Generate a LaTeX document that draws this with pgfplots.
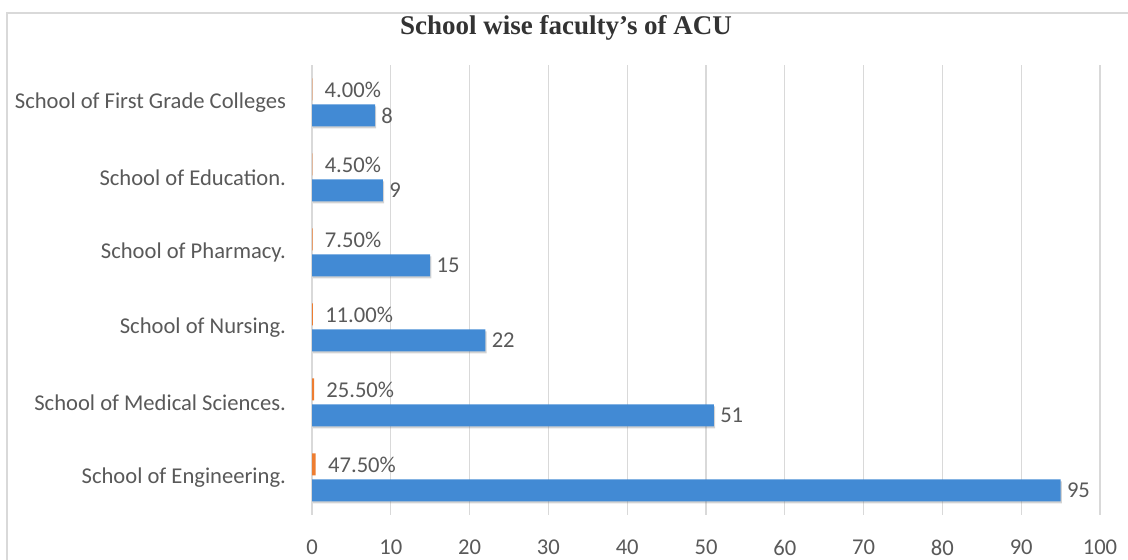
\documentclass[border=0pt]{standalone}
\usepackage{fontspec}
\setmainfont{Carlito}
\newfontfamily\titlefont{Liberation Serif}
\usepackage{pgfplots}
\pgfplotsset{compat=1.18}
\usetikzlibrary{shadows}
\definecolor{barblue}{RGB}{66,138,212}
\definecolor{barorange}{RGB}{237,125,49}
\definecolor{gridgray}{RGB}{217,217,217}
\definecolor{textgray}{RGB}{89,89,89}
\begin{document}
\begin{tikzpicture}
\useasboundingbox (0,0) rectangle (564pt,280pt);
\draw[gridgray, line width=0.6pt] (3.5pt,0) -- (3.5pt,273.5pt) -- (564pt,273.5pt);
\node[font=\titlefont\bfseries\fontsize{13.5}{16}\selectfont, text=black!80] at (283pt,266pt) {School wise faculty’s of ACU};
\begin{axis}[
  at={(156pt,22.5pt)}, anchor=south west,
  scale only axis, width=394pt, height=225pt,
  xbar, xmin=0, xmax=100, ymin=-0.5, ymax=5.5,
  xtick={0,10,...,100},
  ytick={0,...,5},
  yticklabels={School of Engineering., School of Medical Sciences., School of Nursing., School of Pharmacy., School of Education., School of First Grade Colleges},
  axis line style={draw=none},
  xmajorgrids, grid style={gridgray, line width=0.6pt},
  major tick length=0pt,
  tick label style={font=\fontsize{11.3}{13}\selectfont, text=textgray},
  /pgf/number format/assume math mode=true,
  bar width=11pt,
  xticklabel style={yshift=-9pt},
  yticklabel style={xshift=-9.5pt},
  clip=false,
]
\addplot[fill=barblue, draw=none, bar shift=-6.5pt,
  drop shadow={shadow xshift=0.6pt, shadow yshift=-1pt, opacity=0.35},
  nodes near coords, nodes near coords style={anchor=west, font=\fontsize{11.3}{13}\selectfont, text=textgray, inner sep=2pt, xshift=1pt}]
  coordinates {(95,0) (51,1) (22,2) (15,3) (9,4) (8,5)};
\addplot[fill=barorange, draw=none, bar shift=6.5pt,
  point meta=explicit symbolic,
  nodes near coords, nodes near coords style={anchor=west, font=\fontsize{11.3}{13}\selectfont, text=textgray, xshift=4pt, inner sep=2pt}]
  coordinates {(0.475,0) [47.50\%] (0.255,1) [25.50\%] (0.11,2) [11.00\%] (0.075,3) [7.50\%] (0.045,4) [4.50\%] (0.04,5) [4.00\%]};
\end{axis}
\end{tikzpicture}
\end{document}
